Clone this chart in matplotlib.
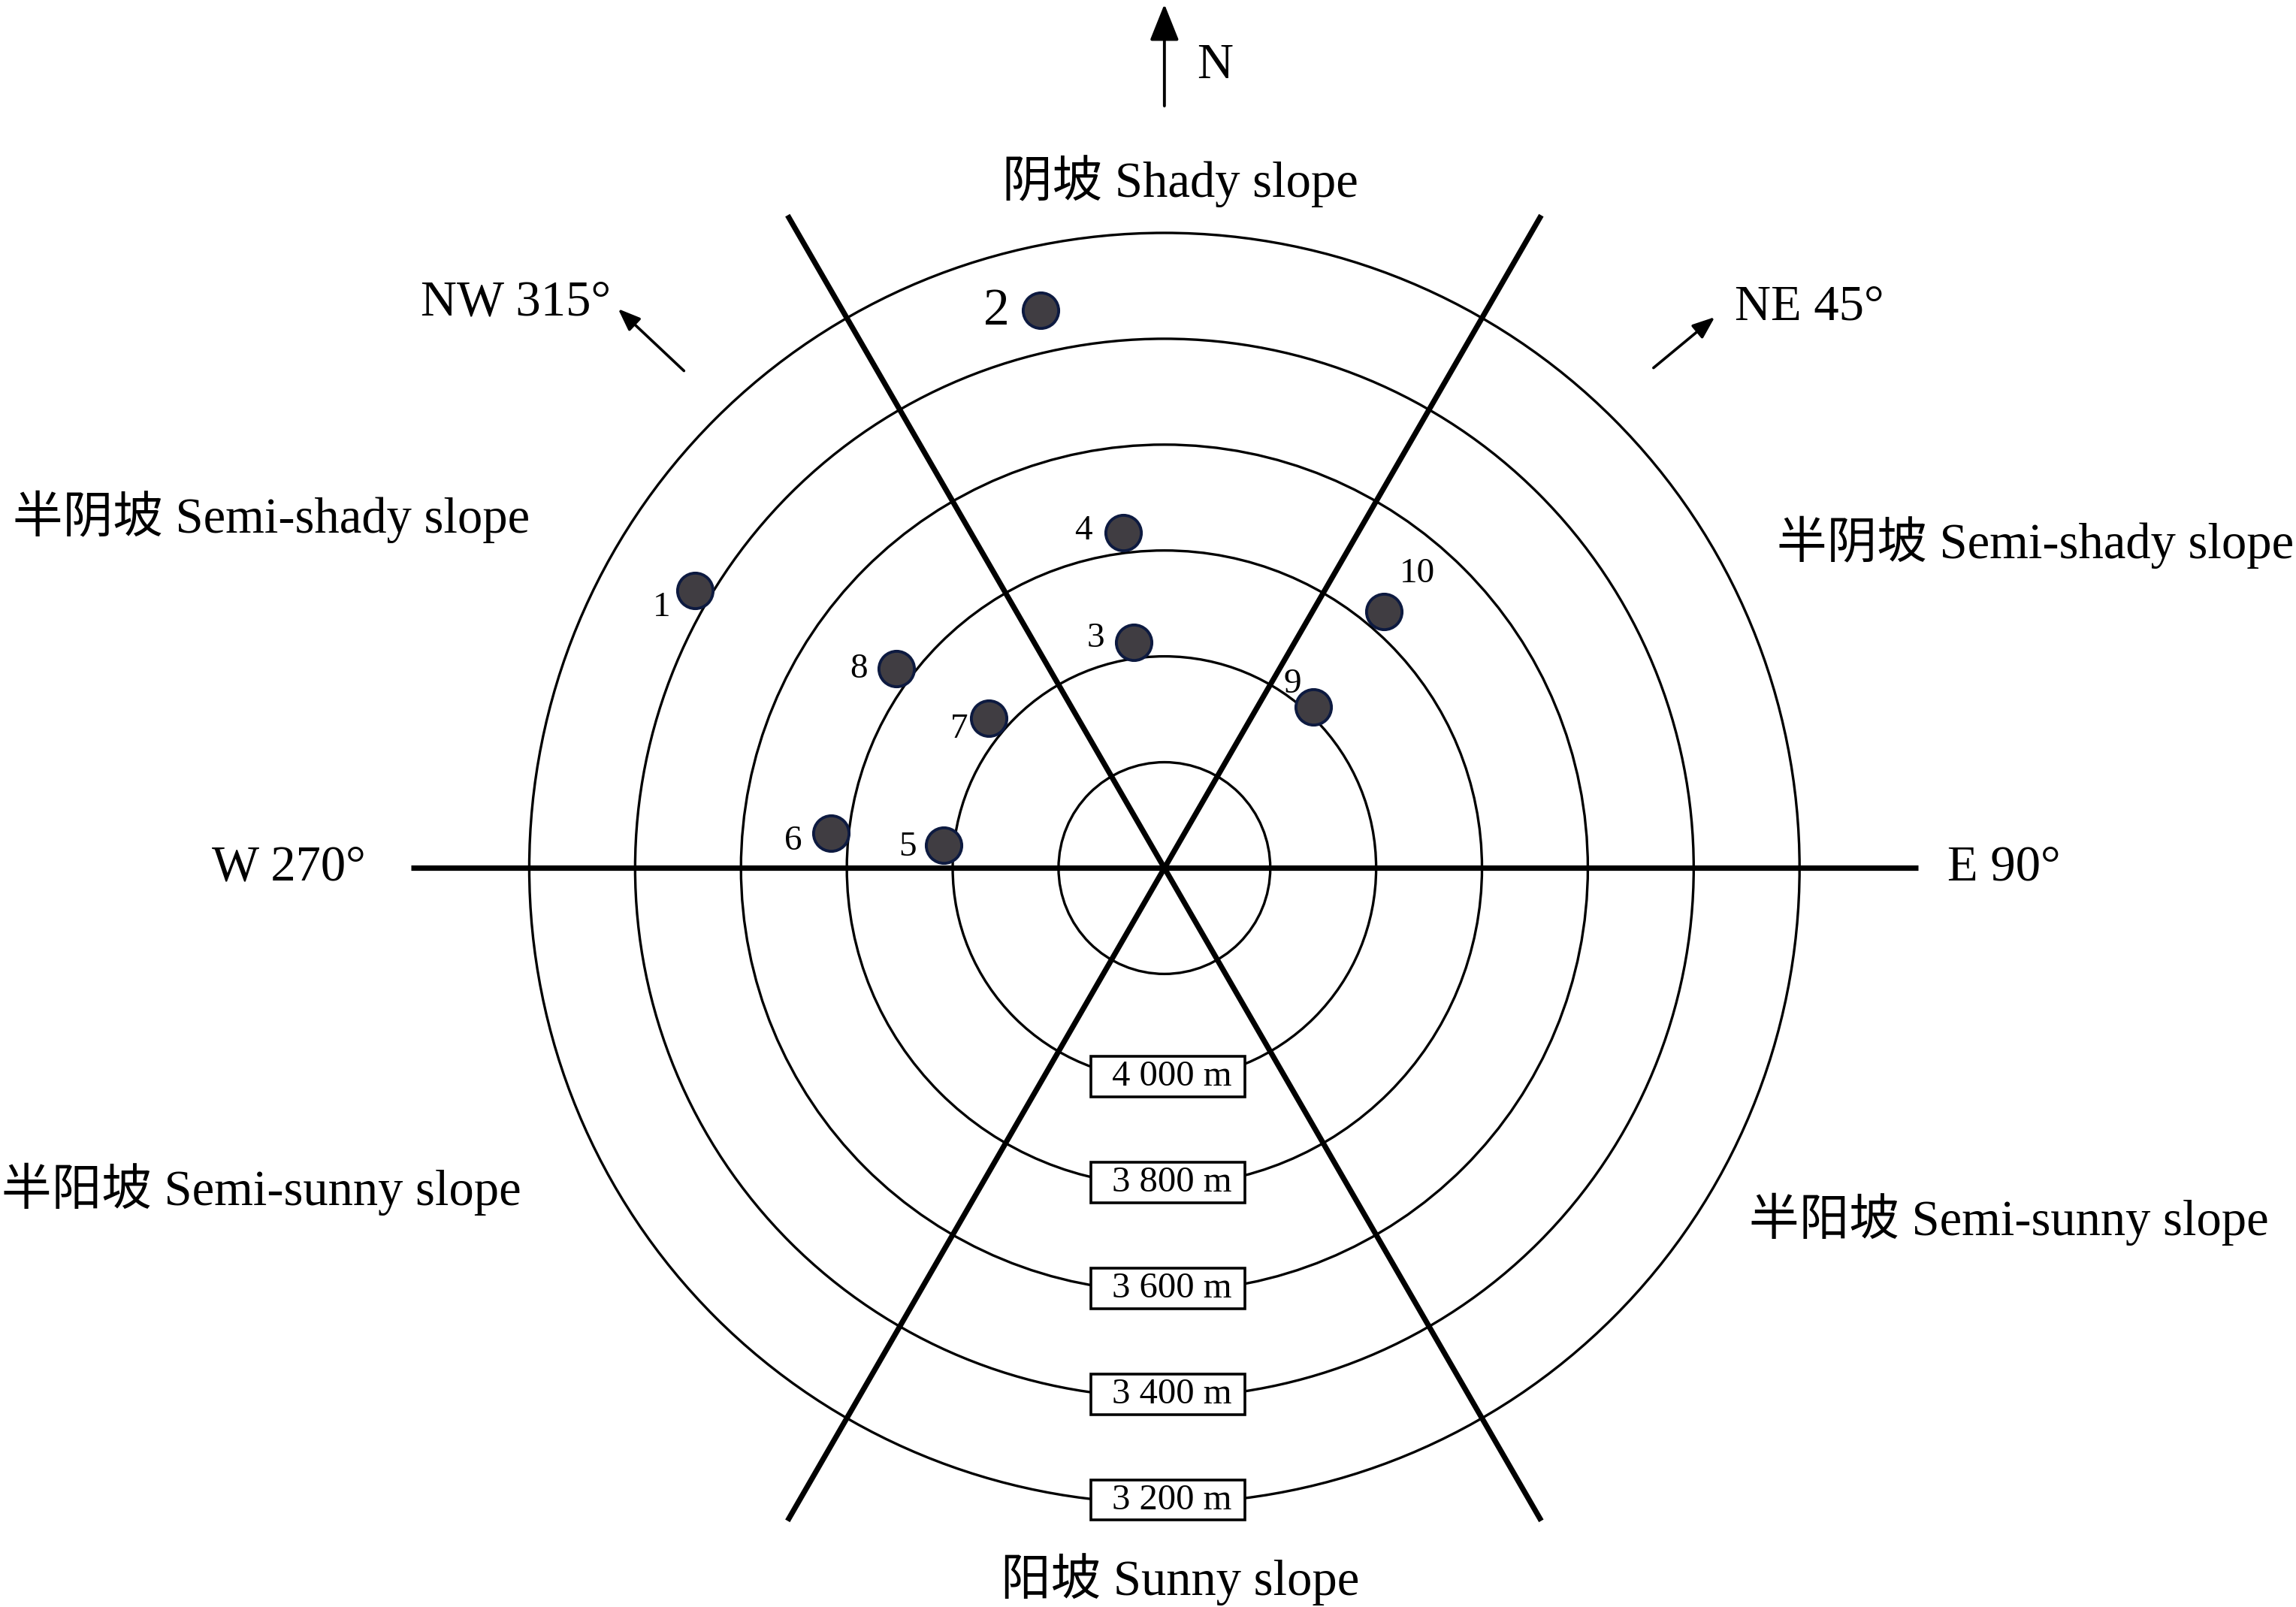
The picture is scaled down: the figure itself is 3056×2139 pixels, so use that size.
import numpy as np
import matplotlib as mpl
mpl.use('Agg')
import matplotlib.pyplot as plt
from matplotlib.patches import Circle, Rectangle

plt.rcParams['font.family'] = ['Liberation Serif', 'Noto Sans CJK SC', 'DejaVu Sans']

# rings: altitude contours (m), 200 m apart, centre = 4400 m
ring_alts = [4200, 4000, 3800, 3600, 3400, 3200]
ring_labels = ['', '4 000 m', '3 800 m', '3 600 m', '3 400 m', '3 200 m']
top_alt = 4400
step = 200

# sample plots: altitude (m) and aspect (deg, clockwise from N)
plot_ids = ['1', '2', '3', '4', '5', '6', '7', '8', '9', '10']
plot_alt = [3370, 3320, 3970, 3762, 3980, 3766, 3964, 3769, 3985, 3762]
plot_az = [300.6, 347.5, 352.2, 353.0, 276.0, 276.0, 310.4, 306.6, 42.8, 40.6]

# slope boundary directions (deg)
divider_az = [30, 150, 210, 330, 90, 270]

def to_xy(alt, az):
    r = (top_alt - np.asarray(alt, float)) / step
    a = np.deg2rad(np.asarray(az, float))
    return r * np.sin(a), r * np.cos(a)

fig = plt.figure(figsize=(15.28, 10.695), dpi=200)
ax = fig.add_axes([0, 0, 1, 1])
ax.set_xlim(-11.0, 10.69)
ax.set_ylim(-6.98, 8.20)
ax.axis('off')

# contour rings
for alt in ring_alts:
    r = (top_alt - alt) / step
    ax.add_patch(Circle((0, 0), r, fill=False, lw=1.2, ec='k', zorder=1))

# slope boundaries
line_len = 7.12
for az in divider_az:
    x, y = to_xy(top_alt - line_len * step, az)
    ax.plot([0, x], [0, y], color='k', lw=2.6, solid_capstyle='butt', zorder=2)

# altitude labels on the south side of each ring
for alt, lab in zip(ring_alts, ring_labels):
    if not lab:
        continue
    r = (top_alt - alt) / step
    ax.add_patch(Rectangle((0.035 - 0.727, -r + 0.03 - 0.19), 1.455, 0.38,
                           fc='white', ec='k', lw=1.3, zorder=4))
    ax.text(0.07, -r + 0.03, lab, ha='center', va='center', fontsize=17.5, zorder=5)

# sample plots
px, py = to_xy(plot_alt, plot_az)
ax.scatter(px, py, s=17**2, c='#403d42', edgecolors='#0d1a40', linewidths=1.4, zorder=6)

label_off = {'1': (-16, -8), '2': (-21, -1), '3': (-18, 2), '4': (-19, 1),
             '5': (-17, -1), '6': (-18, -4), '7': (-14, -5), '8': (-18, 0),
             '9': (-10, 11), '10': (16, 18)}
for i, lab in enumerate(plot_ids):
    fs = 25 if lab == '2' else 17
    ax.annotate(lab, (px[i], py[i]), xytext=label_off[lab], textcoords='offset points',
                ha='center', va='center', fontsize=fs, zorder=7)

# compass arrows
ax.annotate('', xy=(0, 8.20), xytext=(0, 7.16),
            arrowprops=dict(arrowstyle='-|>,head_length=1.5,head_width=0.6',
                            mutation_scale=10, lw=1.4, color='k'))
ax.text(0.48, 7.58, 'N', ha='center', va='center', fontsize=24)
ax.annotate('', xy=(-5.19, 5.31), xytext=(-4.51, 4.67),
            arrowprops=dict(arrowstyle='-|>,head_length=0.9,head_width=0.35',
                            mutation_scale=10, lw=1.3, color='k'))
ax.annotate('', xy=(5.23, 5.23), xytext=(4.59, 4.70),
            arrowprops=dict(arrowstyle='-|>,head_length=0.9,head_width=0.35',
                            mutation_scale=10, lw=1.3, color='k'))

fs = 24
ax.text(-6.13, 5.34, 'NW 315°', ha='center', va='center', fontsize=fs)
ax.text(6.09, 5.30, 'NE 45°', ha='center', va='center', fontsize=fs)
ax.text(-8.27, 0.0, 'W 270°', ha='center', va='center', fontsize=fs)
ax.text(7.93, 0.0, 'E 90°', ha='center', va='center', fontsize=fs)
ax.text(0.15, 6.49, '阴坡 Shady slope', ha='center', va='center', fontsize=fs)
ax.text(0.15, -6.72, '阳坡 Sunny slope', ha='center', va='center', fontsize=fs)
ax.text(-8.44, 3.32, '半阴坡 Semi-shady slope', ha='center', va='center', fontsize=fs)
ax.text(8.23, 3.08, '半阴坡 Semi-shady slope', ha='center', va='center', fontsize=fs)
ax.text(-8.53, -3.03, '半阳坡 Semi-sunny slope', ha='center', va='center', fontsize=fs)
ax.text(7.98, -3.32, '半阳坡 Semi-sunny slope', ha='center', va='center', fontsize=fs)

fig.savefig('out.png', dpi=200, facecolor='white')
